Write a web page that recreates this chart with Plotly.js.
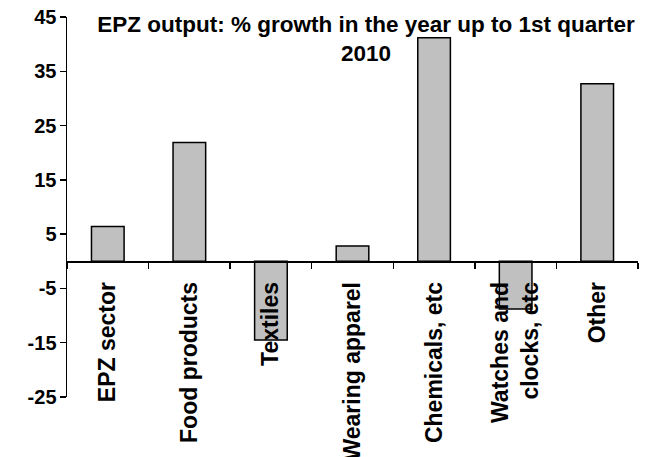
<!DOCTYPE html>
<html>
<head>
<meta charset="utf-8">
<script src="https://cdn.plot.ly/plotly-3.0.1.min.js"></script>
<style>html,body{margin:0;padding:0;background:#fff;}</style>
</head>
<body>
<div id="chart" style="width:655px;height:457px;"></div>
<script>
const categories = ["EPZ sector", "Food products", "Textiles", "Wearing apparel", "Chemicals, etc", "Watches and<br>clocks, etc", "Other"];
const growth = [6.4, 21.9, -14.5, 2.8, 41.2, -8.8, 32.7];
const yTicks = [-25, -15, -5, 5, 15, 25, 35, 45];
const titleText = "EPZ output: % growth in the year up to 1st quarter<br>2010";

const fontFam = "Liberation Sans, Arial, sans-serif";
const data = [{
  type: "bar",
  x: categories,
  y: growth,
  marker: {color: "#c0c0c0", line: {color: "#000", width: 1.5}},
  hoverinfo: "none"
}];

const layout = {
  width: 655, height: 457,
  margin: {l: 67, r: 17, t: 17, b: 60, pad: 0},
  paper_bgcolor: "#fff", plot_bgcolor: "#fff",
  showlegend: false,
  bargap: 0.6,
  title: {
    text: titleText,
    font: {family: fontFam, size: 22.5, color: "#000", weight: "bold"},
    x: 366/655, xref: "container", xanchor: "center",
    y: 1 - 32/457, yref: "container", yanchor: "top"
  },
  xaxis: {
    type: "category",
    anchor: "free", position: 25/70,
    showline: true, linecolor: "#000", linewidth: 1.5,
    ticks: "outside", ticklen: 6, tickcolor: "#000", tickwidth: 1.5,
    tickson: "boundaries",
    tickangle: -90,
    ticklabelstandoff: 10,
    tickfont: {family: fontFam, size: 23, color: "#000", weight: "bold"},
    showgrid: false, zeroline: false, automargin: false, fixedrange: true
  },
  yaxis: {
    range: [-25, 45],
    tickvals: yTicks,
    ticktext: yTicks.map(String),
    showline: true, linecolor: "#000", linewidth: 1.5,
    ticks: "outside", ticklen: 6, tickcolor: "#000", tickwidth: 1.5,
    tickfont: {family: fontFam, size: 20, color: "#000", weight: "bold"},
    ticklabelstandoff: -1,
    showgrid: false, zeroline: false, automargin: false, fixedrange: true
  }
};

Plotly.newPlot("chart", data, layout, {staticPlot: true, displayModeBar: false});
</script>
</body>
</html>
